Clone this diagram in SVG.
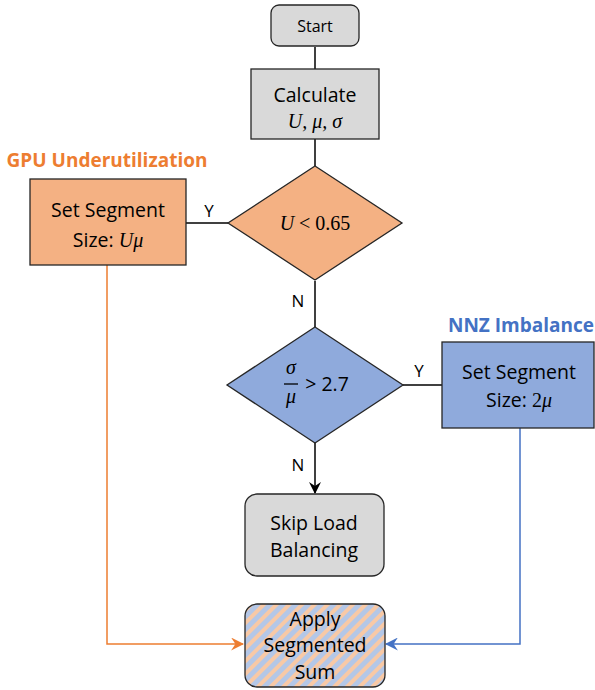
<svg xmlns="http://www.w3.org/2000/svg" width="595" height="690" viewBox="0 0 595 690">
  <style>
    .node { stroke: #262626; stroke-width: 1.3; }
    .gray { fill: #D9D9D9; }
    .orange { fill: #F4B183; }
    .blue { fill: #8FAADC; }
    .txt { font-family: "Open Sans", "Liberation Sans", sans-serif; font-size: 19.5px; fill: #000; text-anchor: middle; }
    .small { font-size: 16px; }
    .math { font-family: "Liberation Serif", "DejaVu Serif", serif; font-style: italic; font-size: 20px; }
    .mathup { font-family: "Liberation Serif", "DejaVu Serif", serif; font-size: 20px; }
    .lbl { font-family: "Open Sans", "Liberation Sans", sans-serif; font-size: 17px; fill: #000; text-anchor: middle; }
    .title { font-family: "Open Sans", "Liberation Sans", sans-serif; font-size: 19px; font-weight: bold; text-anchor: middle; }
    .edge { fill: none; stroke-width: 1.5; }
  </style>
  <defs>
    <pattern id="hatch" patternUnits="userSpaceOnUse" width="9" height="9" patternTransform="rotate(45)">
      <rect width="9" height="9" fill="#B4C7E7"/>
      <rect width="4" height="9" fill="#F8C9A6"/>
    </pattern>
    <marker id="arrowBlack" viewBox="0 0 12 12" refX="11" refY="6" markerWidth="12" markerHeight="12" markerUnits="userSpaceOnUse" orient="auto">
      <path d="M0,0 L12,6 L0,12 L4,6 Z" fill="#000"/>
    </marker>
    <marker id="arrowOrange" viewBox="0 0 12 12" refX="11" refY="6" markerWidth="13" markerHeight="13" markerUnits="userSpaceOnUse" orient="auto">
      <path d="M0,0 L12,6 L0,12 L4,6 Z" fill="#ED7D31"/>
    </marker>
    <marker id="arrowBlue" viewBox="0 0 12 12" refX="11" refY="6" markerWidth="13" markerHeight="13" markerUnits="userSpaceOnUse" orient="auto">
      <path d="M0,0 L12,6 L0,12 L4,6 Z" fill="#4472C4"/>
    </marker>
  </defs>

  <rect width="595" height="690" fill="#fff"/>

  <!-- connectors -->
  <g id="connectors">
    <path class="edge" stroke="#000" d="M315,47 V69"/>
    <path class="edge" stroke="#000" d="M315,139 V166"/>
    <path class="edge" stroke="#000" d="M228,223 H186"/>
    <path class="edge" stroke="#000" d="M315,281 V327"/>
    <path class="edge" stroke="#000" d="M403,385 H442"/>
    <path class="edge" stroke="#000" d="M315,443 V493" marker-end="url(#arrowBlack)"/>
    <path class="edge" stroke="#ED7D31" d="M107,265 V644 H243" marker-end="url(#arrowOrange)"/>
    <path class="edge" stroke="#4472C4" d="M520,428 V644 H386" marker-end="url(#arrowBlue)"/>
    <text class="lbl" x="209" y="217">Y</text>
    <text class="lbl" x="298" y="307">N</text>
    <text class="lbl" x="419" y="377">Y</text>
    <text class="lbl" x="298" y="471">N</text>
  </g>

  <!-- start -->
  <g id="start">
    <rect class="node gray" x="271" y="5" width="88" height="41" rx="8"/>
    <text class="txt small" x="315" y="32">Start</text>
  </g>

  <!-- calculate -->
  <g id="calculate">
    <rect class="node gray" x="251" y="69" width="128" height="70"/>
    <text class="txt" x="315" y="102">Calculate</text>
    <text class="math" x="315" y="128" text-anchor="middle">U, μ, σ</text>
  </g>

  <!-- utilization check -->
  <g id="util-check">
    <path class="node orange" d="M315,166 L402,223 L315,280 L228,223 Z"/>
    <text class="math" x="315" y="230" text-anchor="middle">U <tspan font-style="normal">&lt; 0.65</tspan></text>
  </g>

  <!-- GPU underutilization -->
  <g id="gpu-seg">
    <text class="title" x="107" y="167" fill="#ED7D31">GPU Underutilization</text>
    <rect class="node orange" x="30" y="179" width="156" height="86"/>
    <text class="txt" x="108" y="217">Set Segment</text>
    <text class="txt" x="108" y="247">Size: <tspan class="math">Uμ</tspan></text>
  </g>

  <!-- imbalance check -->
  <g id="imbalance-check">
    <path class="node blue" d="M315,327 L403,385 L315,443 L227,385 Z"/>
    <text class="math" x="291" y="374" text-anchor="middle">σ</text>
    <line x1="284" y1="384" x2="298" y2="384" stroke="#000" stroke-width="1.3"/>
    <text class="math" x="291" y="403" text-anchor="middle">μ</text>
    <text class="txt" x="327" y="391">&gt; 2.7</text>
  </g>

  <!-- NNZ imbalance -->
  <g id="nnz-seg">
    <text class="title" x="521" y="332" fill="#4472C4">NNZ Imbalance</text>
    <rect class="node blue" x="442" y="342" width="152" height="86"/>
    <text class="txt" x="519" y="379">Set Segment</text>
    <text class="txt" x="519" y="407">Size: <tspan class="mathup">2</tspan><tspan class="math">μ</tspan></text>
  </g>

  <!-- skip -->
  <g id="skip">
    <rect class="node gray" x="245" y="494" width="139" height="82" rx="12"/>
    <text class="txt" x="314" y="530">Skip Load</text>
    <text class="txt" x="314" y="557">Balancing</text>
  </g>

  <!-- apply -->
  <g id="apply">
    <rect class="node" fill="url(#hatch)" x="245" y="604" width="140" height="83" rx="12"/>
    <text class="txt" x="315" y="626">Apply</text>
    <text class="txt" x="315" y="652">Segmented</text>
    <text class="txt" x="315" y="679">Sum</text>
  </g>
</svg>
